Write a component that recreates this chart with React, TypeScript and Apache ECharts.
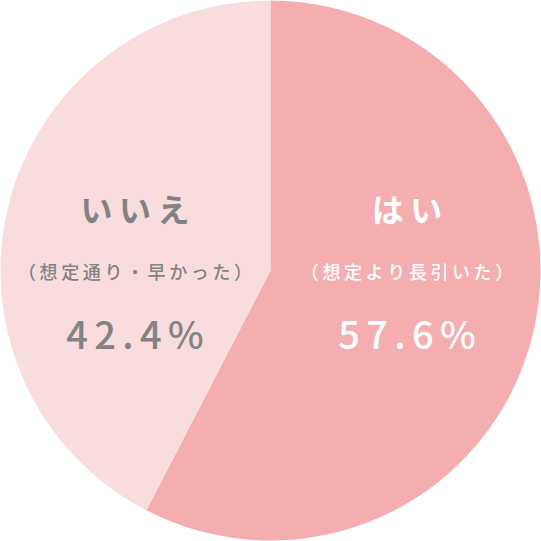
import { useEffect, useRef } from "react";
import * as echarts from "echarts";

// Slice data, clockwise from 12 o'clock.
const NAMES = ["はい", "いいえ"];
const NOTES = ["（想定より長引いた）", "（想定通り・早かった）"];
const VALUES = [57.6, 42.4];
const COLORS = ["#f4aeb0", "#f9dcde"];
const INK = ["#ffffff", "#828282"];
// Centre x of each label block (the text is set apart from the slices).
const LABEL_X = [407, 135];

const FONT = '"Noto Sans CJK JP", "Noto Sans", sans-serif';

// Spread glyphs apart with a narrow space, like the wide tracking in the source.
const track = (s: string, gap: string) => s.split("").join(gap);

function buildOption() {
  const texts = NAMES.flatMap((name, i) => [
    {
      type: "text",
      x: LABEL_X[i],
      y: 208,
      z: 100,
      style: {
        text: track(name, "\u2009"),
        fill: INK[i],
        font: `bold 32px ${FONT}`,
        align: "center",
        verticalAlign: "middle",
      },
    },
    {
      type: "text",
      x: LABEL_X[i],
      y: 271,
      z: 100,
      style: {
        text: track(NOTES[i], "\u2009"),
        fill: INK[i],
        font: `500 18px ${FONT}`,
        align: "center",
        verticalAlign: "middle",
      },
    },
    {
      type: "text",
      x: LABEL_X[i],
      y: 332,
      z: 100,
      style: {
        text: track(`${VALUES[i].toFixed(1)}%`, "\u2006"),
        fill: INK[i],
        font: `500 38px ${FONT}`,
        align: "center",
        verticalAlign: "middle",
      },
    },
  ]);

  return {
    animation: false,
    graphic: texts,
    series: [
      {
        type: "pie",
        center: ["50%", "50%"],
        radius: [0, 270],
        startAngle: 90,
        clockwise: true,
        label: { show: false },
        labelLine: { show: false },
        emphasis: { disabled: true },
        data: NAMES.map((name, i) => ({
          name,
          value: VALUES[i],
          itemStyle: { color: COLORS[i] },
        })),
      },
    ],
  };
}

function PieChart() {
  const boxRef = useRef<HTMLDivElement>(null);
  useEffect(() => {
    if (!boxRef.current) return;
    const inst = echarts.init(boxRef.current, undefined, { renderer: "svg" });
    inst.setOption(buildOption());
    return () => inst.dispose();
  }, []);
  return <div ref={boxRef} style={{ width: 541, height: 541 }} />;
}

export default function App() {
  useEffect(() => {
    document.body.style.margin = "0";
    document.body.style.background = "#ffffff";
  }, []);
  return <PieChart />;
}
